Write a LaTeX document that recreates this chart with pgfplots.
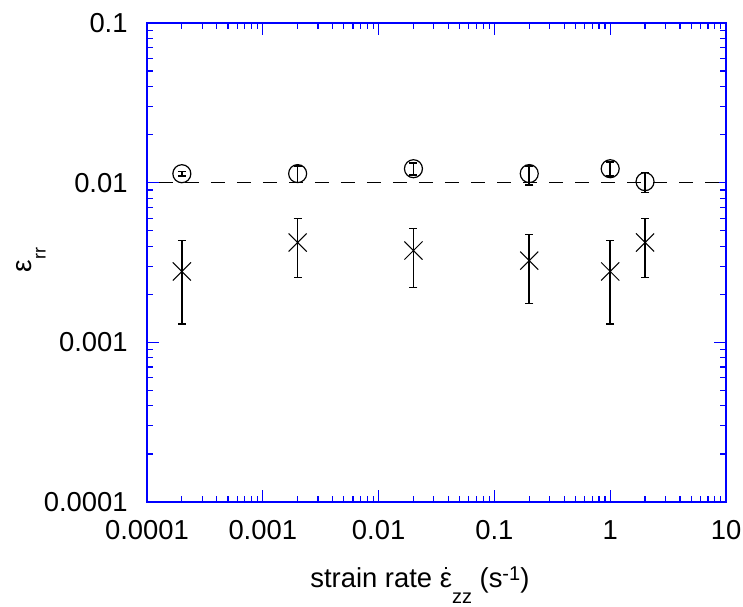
\documentclass[border=0pt]{standalone}
\usepackage{fontspec}
\setmainfont{Liberation Sans}
\usepackage{pgfplots}
\pgfplotsset{compat=1.18}
\newcommand{\epsdot}{{\setbox0\hbox{ε}\rlap{\hbox to\wd0{\hss\raisebox{8.8pt}{\rule{1.4pt}{1.4pt}}\hss}}ε}}
\begin{document}
\begin{tikzpicture}
\begin{axis}[
  scale only axis, width=289.5pt, height=239.5pt,
  at={(0,0)}, anchor=south west,
  xmode=log, ymode=log,
  xmin=1e-4, xmax=10, ymin=1e-4, ymax=0.1,
  axis line style={blue, line width=1pt},
  every tick/.style={blue, line width=0.6pt},
  tick align=inside,
  major tick length=6pt, minor tick length=3pt,
  xtick={1e-4,1e-3,1e-2,1e-1,1,10},
  xticklabels={0.0001,0.001,0.01,0.1,1,10},
  minor xtick={2e-4,3e-4,4e-4,5e-4,6e-4,7e-4,8e-4,9e-4,2e-3,3e-3,4e-3,5e-3,6e-3,7e-3,8e-3,9e-3,2e-2,3e-2,4e-2,5e-2,6e-2,7e-2,8e-2,9e-2,0.2,0.3,0.4,0.5,0.6,0.7,0.8,0.9,2,3,4,5,6,7,8,9},
  ytick={1e-4,1e-3,1e-2,1e-1},
  yticklabels={0.0001,0.001,0.01,0.1},
  minor ytick={2e-4,3e-4,4e-4,5e-4,6e-4,7e-4,8e-4,9e-4,2e-3,3e-3,4e-3,5e-3,6e-3,7e-3,8e-3,9e-3,2e-2,3e-2,4e-2,5e-2,6e-2,7e-2,8e-2,9e-2},
  ticklabel style={font=\fontsize{13.7}{16}\selectfont, inner sep=0pt},
  xticklabel style={anchor=north, yshift=-9pt},
  yticklabel style={anchor=east, xshift=-9.5pt},
  xlabel={strain rate \epsdot\raisebox{-8pt}{\fontsize{10}{12}\selectfont zz} (s\raisebox{3.5pt}{\fontsize{10}{12}\selectfont -1})},
  xlabel style={font=\fontsize{13.7}{16}\selectfont, at={(axis description cs:0.2815,-0.1775)}, anchor=base west, inner sep=0pt},
  ylabel={ε\raisebox{-7pt}{\fontsize{9}{11}\selectfont rr}},
  ylabel style={font=\fontsize{14}{16}\selectfont, at={(axis description cs:-0.2003,0.505)}, anchor=center, inner sep=0pt, rotate=0},
  clip=false,
]
\addplot[black, line width=0.8pt, dash pattern=on 7pt off 6pt, dash phase=7pt] coordinates {(1e-4,0.01) (10,0.01)};

\addplot[only marks, black, mark=o, mark size=4.5pt, mark options={line width=0.6pt},
  error bars/.cd, y dir=both, y explicit,
  error bar style={line width=0.8pt, black},
  error mark options={rotate=90, mark size=2pt, line width=0.8pt, black}]
coordinates {
  (0.0002,0.01138) += (0,0.0004) -= (0,0.0004)
  (0.002,0.0114) += (0,0.00135) -= (0,0.0014)
  (0.02,0.01223) += (0,0.0011) -= (0,0.0011)
  (0.2,0.0114) += (0,0.00137) -= (0,0.0017)
  (1,0.01223) += (0,0.0012) -= (0,0.0012)
  (2,0.01015) += (0,0.0014) -= (0,0.00149)
};

\addplot[only marks, black, mark=x, mark size=6.4pt, mark options={line width=0.5pt},
  error bars/.cd, y dir=both, y explicit,
  error bar style={line width=0.8pt, black},
  error mark options={rotate=90, mark size=2pt, line width=0.8pt, black}]
coordinates {
  (0.0002,0.00278) += (0,0.00156) -= (0,0.00148)
  (0.002,0.00422) += (0,0.00174) -= (0,0.00167)
  (0.02,0.00376) += (0,0.0014) -= (0,0.00155)
  (0.2,0.00325) += (0,0.00148) -= (0,0.0015)
  (1,0.00278) += (0,0.00156) -= (0,0.00148)
  (2,0.00422) += (0,0.00174) -= (0,0.00167)
};
\end{axis}
\pgfresetboundingbox
\useasboundingbox (-73.5pt,-52pt) rectangle (298pt,251pt);
\end{tikzpicture}
\end{document}
